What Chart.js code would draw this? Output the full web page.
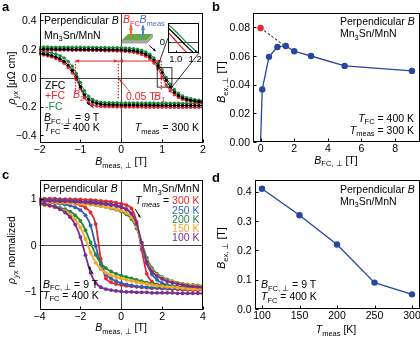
<!DOCTYPE html>
<html>
<head>
<meta charset="utf-8">
<script src="https://cdn.jsdelivr.net/npm/chart.js@4.4.1/dist/chart.umd.min.js"></script>
<style>
  body { margin: 0; background: #fff; }
  #fig { position: relative; width: 420px; height: 337px; overflow: hidden; font-family: "Liberation Sans", Arial, sans-serif; color: #000; }
  #fig canvas { position: absolute; }
  .t { position: absolute; font-size: 10.5px; line-height: 11px; white-space: nowrap; }
  .tk { position: absolute; white-space: nowrap; }
  .s { font-size: 7.5px; position: relative; top: 2.5px; font-style: normal; }
  .si { font-size: 7.5px; position: relative; top: 2.5px; font-style: italic; }
  .p { font-weight: bold; font-size: 13px; line-height: 13px; }
  .xt { transform: translateX(-50%); }
  .yt { transform: translate(-50%, -50%) rotate(-90deg); }
</style>
</head>
<body>
<div id="fig">
  <canvas id="ca" width="210" height="168" style="left:0;top:0"></canvas>
  <canvas id="ci" width="55" height="52" style="left:150px;top:13px"></canvas>
  <canvas id="cb" width="210" height="168" style="left:210px;top:0"></canvas>
  <canvas id="cc" width="210" height="169" style="left:0;top:168px"></canvas>
  <canvas id="cd" width="210" height="169" style="left:210px;top:168px"></canvas>

  <!-- panel a -->
  <div class="t p" style="left:2px;top:0">a</div>
  <div class="t" style="left:44px;top:14.5px">Perpendicular <i>B</i></div>
  <div class="t" style="left:44px;top:29.5px">Mn<span class="s">3</span>Sn/MnN</div>
  <div class="t" style="left:45px;top:79.5px">ZFC</div>
  <div class="t" style="left:45px;top:90px;color:#e8262b">+FC</div>
  <div class="t" style="left:45px;top:100.5px;color:#1b8c3c">-FC</div>
  <div class="t" style="left:44px;top:112px"><i>B</i><span class="s">FC, ⊥</span> = 9 T</div>
  <div class="t" style="left:44px;top:122px"><i>T</i><span class="s">FC</span> = 400 K</div>
  <div class="t" style="right:221px;top:122px"><i>T</i><span class="s">meas</span> = 300 K</div>
  <div class="t" style="left:73px;top:89px;color:#e8262b"><i>B</i><span class="s">2</span></div>
  <div class="t" style="left:126px;top:90.5px;color:#e8262b">0.05 T</div>
  <div class="t" style="left:154px;top:90.5px;color:#e8262b"><i>B</i><span class="s">1</span></div>
  <div class="t" style="left:123px;top:14px;color:#e8262b"><i>B</i><span class="s">FC</span></div>
  <div class="t" style="left:139.5px;top:14px;color:#4a6fc4"><i>B</i><span class="s">meas</span></div>
  <div class="t xt" style="left:121px;top:156px"><i>B</i><span class="s">meas, ⊥</span> [T]</div>
  <div class="t yt" style="left:12px;top:78px"><i>ρ</i><span class="si">yx</span> [μΩ cm]</div>

  <!-- panel b -->
  <div class="t p" style="left:212px;top:0">b</div>
  <div class="t" style="left:340px;top:15.5px">Perpendicular <i>B</i></div>
  <div class="t" style="left:340px;top:28px">Mn<span class="s">3</span>Sn/MnN</div>
  <div class="t" style="right:6px;top:112.5px"><i>T</i><span class="s">FC</span> = 400 K</div>
  <div class="t" style="right:6px;top:124.5px"><i>T</i><span class="s">meas</span> = 300 K</div>
  <div class="t xt" style="left:336px;top:154.5px"><i>B</i><span class="s">FC, ⊥</span> [T]</div>
  <div class="t yt" style="left:222px;top:82px"><i>B</i><span class="s">ex, ⊥</span> [T]</div>

  <!-- panel c -->
  <div class="t p" style="left:2px;top:168px">c</div>
  <div class="t" style="left:43px;top:183px">Perpendicular <i>B</i></div>
  <div class="t" style="right:220.5px;top:183px">Mn<span class="s">3</span>Sn/MnN</div>
  <div class="t" style="right:220.5px;top:195px"><i>T</i><span class="si">meas</span> = <span style="color:#e8262b">300 K</span></div>
  <div class="t" style="right:220.5px;top:204.5px;color:#2e5fb0">250 K</div>
  <div class="t" style="right:220.5px;top:213.5px;color:#24883a">200 K</div>
  <div class="t" style="right:220.5px;top:222.5px;color:#f5a623">150 K</div>
  <div class="t" style="right:220.5px;top:231.5px;color:#7b2d8e">100 K</div>
  <div class="t" style="left:43px;top:278.5px"><i>B</i><span class="s">FC, ⊥</span> = 9 T</div>
  <div class="t" style="left:43px;top:289.5px"><i>T</i><span class="s">FC</span> = 400 K</div>
  <div class="t xt" style="left:121px;top:322px"><i>B</i><span class="s">meas, ⊥</span> [T]</div>
  <div class="t yt" style="left:12px;top:250px"><i>ρ</i><span class="si">yx</span> normalized</div>

  <!-- panel d -->
  <div class="t p" style="left:212px;top:171px">d</div>
  <div class="t" style="left:340px;top:183.5px">Perpendicular <i>B</i></div>
  <div class="t" style="left:340px;top:195.5px">Mn<span class="s">3</span>Sn/MnN</div>
  <div class="t" style="left:261px;top:279px"><i>B</i><span class="s">FC, ⊥</span> = 9 T</div>
  <div class="t" style="left:261px;top:291px"><i>T</i><span class="s">FC</span> = 400 K</div>
  <div class="t xt" style="left:336px;top:324px"><i>T</i><span class="s">meas</span> [K]</div>
  <div class="t yt" style="left:222px;top:248px"><i>B</i><span class="s">ex, ⊥</span> [T]</div>
</div>

<script>
// ---- panel a: loops at 300 K (ZFC, +FC, -FC), both sweep branches
const aField = [-2.0, -1.9, -1.8, -1.7, -1.6, -1.5, -1.4, -1.3, -1.2, -1.1, -1.0, -0.9, -0.8, -0.7, -0.6, -0.5, -0.4, -0.3, -0.2, -0.1,
  0, 0.1, 0.2, 0.3, 0.4, 0.5, 0.6, 0.7, 0.8, 0.9, 1.0, 1.1, 1.2, 1.3, 1.4, 1.5, 1.6, 1.7, 1.8, 1.9, 2.0];
const aZfcUp = [0.199, 0.199, 0.199, 0.199, 0.198, 0.198, 0.198, 0.198, 0.197, 0.197, 0.197, 0.197, 0.196, 0.196, 0.196, 0.195, 0.195, 0.195, 0.194, 0.194,
  0.193, 0.192, 0.190, 0.187, 0.182, 0.175, 0.163, 0.146, 0.120, 0.083, 0.035, -0.018, -0.065, -0.100, -0.124, -0.140, -0.150, -0.157, -0.162, -0.165, -0.168];
const aZfcDown = [0.170, 0.166, 0.161, 0.154, 0.145, 0.132, 0.114, 0.088, 0.052, 0.005, -0.062, -0.118, -0.150, -0.168, -0.178, -0.184, -0.187, -0.188, -0.189, -0.189,
  -0.190, -0.190, -0.190, -0.190, -0.191, -0.191, -0.191, -0.191, -0.191, -0.192, -0.192, -0.192, -0.192, -0.192, -0.192, -0.193, -0.193, -0.193, -0.193, -0.193, -0.193];
const aPlusUp = [0.193, 0.193, 0.193, 0.193, 0.192, 0.192, 0.192, 0.192, 0.191, 0.191, 0.191, 0.190, 0.190, 0.190, 0.189, 0.189, 0.188, 0.188, 0.187, 0.186,
  0.185, 0.183, 0.181, 0.177, 0.171, 0.162, 0.149, 0.130, 0.102, 0.062, 0.005, -0.050, -0.090, -0.118, -0.137, -0.150, -0.158, -0.164, -0.168, -0.171, -0.173];
const aPlusDown = [0.163, 0.158, 0.152, 0.144, 0.134, 0.120, 0.100, 0.072, 0.035, -0.012, -0.075, -0.140, -0.172, -0.188, -0.196, -0.200, -0.201, -0.202, -0.202, -0.203,
  -0.203, -0.203, -0.204, -0.204, -0.204, -0.204, -0.205, -0.205, -0.205, -0.205, -0.205, -0.205, -0.205, -0.206, -0.206, -0.206, -0.206, -0.206, -0.206, -0.206, -0.206];
const aMinusUp = [0.214, 0.214, 0.214, 0.213, 0.213, 0.213, 0.213, 0.212, 0.212, 0.212, 0.212, 0.211, 0.211, 0.211, 0.210, 0.210, 0.210, 0.209, 0.209, 0.209,
  0.208, 0.207, 0.205, 0.202, 0.198, 0.191, 0.180, 0.163, 0.138, 0.102, 0.055, 0.002, -0.045, -0.082, -0.108, -0.126, -0.138, -0.146, -0.152, -0.156, -0.159];
const aMinusDown = [0.184, 0.181, 0.177, 0.172, 0.165, 0.154, 0.138, 0.114, 0.080, 0.030, -0.032, -0.090, -0.128, -0.150, -0.163, -0.170, -0.172, -0.173, -0.174, -0.174,
  -0.175, -0.175, -0.175, -0.175, -0.176, -0.176, -0.176, -0.176, -0.176, -0.177, -0.177, -0.177, -0.177, -0.177, -0.177, -0.178, -0.178, -0.178, -0.178, -0.178, -0.178];
const aXTicks = [-2, -1, 0, 1, 2];
const aYTicks = [-0.4, -0.2, 0, 0.2, 0.4];
const insetXTicks = [1.0, 1.2];
const insetYTicks = [0];
// switching fields marked in panel a
const aB2 = -1.12, aB1 = 0.98, aMid = -0.07, aArrowLevel = 0.116;

// ---- panel b: exchange bias vs cooling field
const bField = [0, 0.1, 0.5, 1, 1.5, 2, 3, 5, 9];
const bEx = [0, 0.0367, 0.0594, 0.0663, 0.0670, 0.0633, 0.0600, 0.0531, 0.0496];
const bZfcField = [0];
const bZfcEx = [0.0795];
const bFitField = [0, 1.5];
const bFitEx = [0.0795, 0.0665];
const bXTicks = [0, 2, 4, 6, 8];
const bYTicks = [0, 0.02, 0.04, 0.06, 0.08];

// ---- panel c: normalized loops at several temperatures
const cField = [-4, -3.75, -3.5, -3.25, -3, -2.75, -2.5, -2.25, -2, -1.75, -1.5, -1.25, -1, -0.75, -0.5, -0.25,
  0, 0.25, 0.5, 0.75, 1, 1.25, 1.5, 1.75, 2, 2.25, 2.5, 2.75, 3, 3.25, 3.5, 3.75, 4];
const c300Up = [1.00, 1.00, 1.00, 1.00, 0.99, 0.99, 0.99, 0.98, 0.98, 0.97, 0.97, 0.96, 0.95, 0.94, 0.93, 0.91,
  0.89, 0.86, 0.79, 0.50, -0.10, -0.62, -0.79, -0.86, -0.90, -0.92, -0.94, -0.95, -0.96, -0.96, -0.97, -0.97, -0.97];
const c300Down = [0.97, 0.96, 0.96, 0.95, 0.94, 0.93, 0.91, 0.89, 0.86, 0.80, 0.70, 0.45, -0.30, -0.72, -0.80, -0.84,
  -0.86, -0.88, -0.89, -0.90, -0.91, -0.92, -0.93, -0.93, -0.94, -0.94, -0.95, -0.95, -0.96, -0.96, -0.96, -0.97, -0.97];
const c250Up = [0.97, 0.97, 0.97, 0.96, 0.96, 0.96, 0.95, 0.95, 0.94, 0.93, 0.93, 0.92, 0.91, 0.89, 0.88, 0.86,
  0.83, 0.77, 0.66, 0.42, 0.00, -0.40, -0.63, -0.75, -0.82, -0.86, -0.88, -0.90, -0.91, -0.92, -0.93, -0.93, -0.94];
const c250Down = [0.92, 0.92, 0.91, 0.90, 0.89, 0.87, 0.85, 0.81, 0.75, 0.64, 0.42, -0.02, -0.42, -0.63, -0.72, -0.78,
  -0.82, -0.85, -0.87, -0.89, -0.90, -0.91, -0.92, -0.92, -0.93, -0.93, -0.94, -0.94, -0.95, -0.95, -0.95, -0.96, -0.96];
const c200Up = [0.95, 0.95, 0.94, 0.94, 0.93, 0.93, 0.92, 0.91, 0.90, 0.89, 0.88, 0.86, 0.84, 0.82, 0.79, 0.76,
  0.72, 0.66, 0.56, 0.36, 0.05, -0.28, -0.50, -0.62, -0.69, -0.74, -0.78, -0.81, -0.83, -0.85, -0.86, -0.87, -0.88];
const c200Down = [0.87, 0.86, 0.85, 0.83, 0.80, 0.77, 0.72, 0.64, 0.52, 0.32, 0.05, -0.21, -0.39, -0.50, -0.57, -0.62,
  -0.66, -0.69, -0.72, -0.75, -0.78, -0.81, -0.83, -0.85, -0.87, -0.88, -0.89, -0.90, -0.91, -0.92, -0.93, -0.94, -0.95];
const c150Up = [0.93, 0.93, 0.92, 0.92, 0.91, 0.91, 0.90, 0.90, 0.89, 0.88, 0.87, 0.86, 0.84, 0.82, 0.80, 0.77,
  0.74, 0.69, 0.60, 0.40, 0.02, -0.33, -0.54, -0.65, -0.71, -0.76, -0.79, -0.82, -0.84, -0.86, -0.87, -0.88, -0.89];
const c150Down = [0.87, 0.86, 0.84, 0.81, 0.78, 0.73, 0.66, 0.55, 0.38, 0.13, -0.16, -0.38, -0.52, -0.60, -0.65, -0.69,
  -0.72, -0.75, -0.77, -0.80, -0.82, -0.84, -0.86, -0.88, -0.89, -0.90, -0.91, -0.92, -0.93, -0.94, -0.95, -0.95, -0.96];
const c100Up = [0.95, 0.95, 0.95, 0.95, 0.94, 0.94, 0.94, 0.93, 0.93, 0.92, 0.91, 0.90, 0.89, 0.88, 0.86, 0.84,
  0.81, 0.77, 0.68, 0.46, 0.05, -0.36, -0.57, -0.67, -0.73, -0.78, -0.81, -0.84, -0.86, -0.88, -0.89, -0.90, -0.91];
const c100Down = [0.90, 0.88, 0.85, 0.82, 0.77, 0.70, 0.60, 0.44, 0.17, -0.22, -0.60, -0.82, -0.91, -0.95, -0.97, -0.99,
  -1.00, -1.01, -1.01, -1.02, -1.02, -1.02, -1.03, -1.03, -1.03, -1.03, -1.03, -1.04, -1.04, -1.04, -1.04, -1.04, -1.04];
const cXTicks = [-4, -2, 0, 2, 4];
const cYTicks = [-1, 0, 1];

// ---- panel d: exchange bias vs measurement temperature
const dTemp = [100, 150, 200, 250, 300];
const dEx = [0.41, 0.32, 0.22, 0.09, 0.05];
const dXTicks = [100, 150, 200, 250, 300];
const dYTicks = [0, 0.1, 0.2, 0.3, 0.4];

const FONT = '"Liberation Sans", Arial, sans-serif';
const RED = '#e8262b', GREEN = '#1b8c3c', NAVY = '#27479e';
const C300 = '#e8262b', C250 = '#2e5fb0', C200 = '#24883a', C150 = '#f5a623', C100 = '#7b2d8e';

const pts = (xs, ys) => xs.map((v, i) => ({ x: v, y: ys[i] }));
const neg = s => s.replace('-', '\u2212');

function loop(xs, ys, color, r, w) {
  return {
    data: pts(xs, ys), showLine: true, borderColor: color, backgroundColor: color,
    borderWidth: w, pointRadius: r, pointBorderWidth: 0,
    cubicInterpolationMode: 'monotone', clip: 0
  };
}

// tick labels are placed as page text from the scale's own tick list
function axis(min, max, ticks, fmt, size, isX, fs) {
  return {
    type: 'linear', min, max,
    afterBuildTicks: s => { s.ticks = ticks.map(v => ({ value: v })); },
    afterFit: s => { if (isX) s.height = size; else s.width = size; },
    grid: { display: false, drawTicks: false },
    border: { display: false },
    ticks: { display: false, font: { family: FONT, size: fs || 10.5 }, autoSkip: false, callback: fmt }
  };
}

function tickText(chart, size) {
  const fig = document.getElementById('fig');
  const cv = chart.canvas, A = chart.chartArea;
  const ox = cv.offsetLeft, oy = cv.offsetTop;
  const { x, y } = chart.scales;
  x.ticks.forEach(t => {
    const d = document.createElement('div');
    d.className = 'tk xt';
    d.style.fontSize = size + 'px';
    d.style.lineHeight = size + 'px';
    d.style.left = (ox + x.getPixelForValue(t.value)) + 'px';
    d.style.top = (oy + A.bottom + 1) + 'px';
    d.textContent = t.label;
    fig.appendChild(d);
  });
  y.ticks.forEach(t => {
    const d = document.createElement('div');
    d.className = 'tk';
    d.style.fontSize = size + 'px';
    d.style.lineHeight = size + 'px';
    d.style.right = (420 - (ox + A.left - 3)) + 'px';
    d.style.top = (oy + y.getPixelForValue(t.value) - size / 2) + 'px';
    d.textContent = t.label;
    fig.appendChild(d);
  });
}

// box, inward ticks and optional zero lines
const frame = {
  id: 'frame',
  beforeDatasetsDraw(chart, args, o) {
    if (!o.zero) return;
    const { ctx, chartArea: A, scales: { x, y } } = chart;
    ctx.save();
    ctx.strokeStyle = '#444';
    ctx.lineWidth = 1;
    ctx.beginPath();
    if (x.min < 0 && x.max > 0) {
      const px = Math.round(x.getPixelForValue(0)) + 0.5;
      ctx.moveTo(px, A.top); ctx.lineTo(px, A.bottom);
    }
    if (y.min < 0 && y.max > 0) {
      const py = Math.round(y.getPixelForValue(0)) + 0.5;
      ctx.moveTo(A.left, py); ctx.lineTo(A.right, py);
    }
    ctx.stroke();
    ctx.restore();
  },
  afterDatasetsDraw(chart, args, o) {
    const { ctx, chartArea: A, scales: { x, y } } = chart;
    const l = Math.round(A.left) + 0.5, r = Math.round(A.right) - 0.5;
    const t = Math.round(A.top) + 0.5, b = Math.round(A.bottom) - 0.5;
    const len = o.tick || 3;
    ctx.save();
    ctx.strokeStyle = '#000';
    ctx.lineWidth = 1;
    ctx.strokeRect(l, t, r - l, b - t);
    ctx.beginPath();
    x.ticks.forEach(k => {
      const p = Math.round(x.getPixelForValue(k.value)) + 0.5;
      ctx.moveTo(p, b); ctx.lineTo(p, b - len);
    });
    y.ticks.forEach(k => {
      const p = Math.round(y.getPixelForValue(k.value)) + 0.5;
      ctx.moveTo(l, p); ctx.lineTo(l + len, p);
    });
    ctx.stroke();
    ctx.restore();
  }
};

function panel(id, area, scales, datasets, opts, deco, fs) {
  const cv = document.getElementById(id);
  const plugins = [frame];
  if (deco) plugins.push({ id: 'deco', afterDatasetsDraw: c => { c.ctx.save(); deco(c); c.ctx.restore(); } });
  const chart = new Chart(cv, {
    type: 'scatter',
    data: { datasets },
    options: {
      responsive: false, animation: false, events: [],
      layout: { autoPadding: false, padding: { left: 0, top: area.t, right: cv.width - area.r, bottom: 0 } },
      plugins: { legend: { display: false }, tooltip: { enabled: false }, frame: opts },
      scales
    },
    plugins
  });
  tickText(chart, fs || 10.5);
  return chart;
}

function head(ctx, x1, y1, x2, y2, s) {
  const a = Math.atan2(y2 - y1, x2 - x1);
  ctx.beginPath();
  ctx.moveTo(x2, y2);
  ctx.lineTo(x2 - s * Math.cos(a - 0.45), y2 - s * Math.sin(a - 0.45));
  ctx.lineTo(x2 - s * Math.cos(a + 0.45), y2 - s * Math.sin(a + 0.45));
  ctx.closePath();
  ctx.fill();
}

function arrow(ctx, x1, y1, x2, y2, color, w, s) {
  ctx.strokeStyle = color; ctx.fillStyle = color; ctx.lineWidth = w;
  ctx.beginPath(); ctx.moveTo(x1, y1); ctx.lineTo(x2, y2); ctx.stroke();
  head(ctx, x1, y1, x2, y2, s);
}

function poly(ctx, p) {
  ctx.beginPath();
  p.forEach(([px, py], i) => i ? ctx.lineTo(px, py) : ctx.moveTo(px, py));
  ctx.closePath();
  ctx.fill();
}

function decoA(chart) {
  const { ctx, scales: { x, y } } = chart;
  const X = v => x.getPixelForValue(v), Y = v => y.getPixelForValue(v);
  // dotted guides at the switching fields
  ctx.strokeStyle = RED; ctx.lineWidth = 1.2; ctx.setLineDash([1.5, 1.5]);
  ctx.beginPath();
  ctx.moveTo(X(aB2), Y(aArrowLevel)); ctx.lineTo(X(aB2), Y(-0.1));
  ctx.moveTo(X(aMid), Y(aArrowLevel)); ctx.lineTo(X(aMid), Y(-0.15));
  ctx.moveTo(X(aB1), Y(aArrowLevel)); ctx.lineTo(X(aB1), Y(-0.09));
  ctx.stroke();
  ctx.setLineDash([]);
  // double arrows
  const ly = Y(aArrowLevel);
  arrow(ctx, X(aMid), ly, X(aB2), ly, RED, 1, 4);
  head(ctx, X(aB2), ly, X(aMid) - 1, ly, 4);
  arrow(ctx, X(aMid), ly, X(aB1), ly, RED, 1, 4);
  head(ctx, X(aB1), ly, X(aMid) + 1, ly, 4);
  // pointer from "0.05 T"
  arrow(ctx, X(0.22), Y(-0.1), X(aMid) + 1, Y(0) + 1.5, RED, 0.8, 3);
  // sweep direction arrows
  arrow(ctx, X(0.69), Y(0.222), X(0.84), Y(0.186), '#000', 1, 3);
  arrow(ctx, X(-0.68), Y(-0.208), X(-0.84), Y(-0.172), '#000', 1, 3);
  // zoomed region and connectors to the inset
  ctx.strokeStyle = '#000'; ctx.lineWidth = 0.8;
  const rl = X(0.88), rt = Y(0.07), rr = X(1.24), rb = Y(-0.065);
  ctx.strokeRect(rl, rt, rr - rl, rb - rt);
  ctx.beginPath();
  ctx.moveTo(rl, rt); ctx.lineTo(168, 38);
  ctx.moveTo(rr, rb); ctx.lineTo(199, 53);
  ctx.stroke();
  // sample sketch with field arrows
  ctx.fillStyle = '#a5a5a5';
  poly(ctx, [[122, 40], [147, 40], [153, 34], [153, 37.5], [147, 43.5], [122, 43.5]]);
  ctx.fillStyle = '#63a844';
  poly(ctx, [[128, 34], [153, 34], [147, 40], [122, 40]]);
  arrow(ctx, 131, 37, 131, 25.5, '#f0642d', 2, 5);
  arrow(ctx, 143, 37, 143, 25.5, '#5a7fcc', 2, 5);
}

function decoC(chart) {
  const { ctx, scales: { x, y } } = chart;
  const X = v => x.getPixelForValue(v), Y = v => y.getPixelForValue(v);
  arrow(ctx, X(0.69), Y(0.77), X(0.93), Y(0.59), '#000', 1, 3);
  arrow(ctx, X(-1.37), Y(-0.63), X(-1.58), Y(-0.46), '#000', 1, 3);
}

const fmtA = v => v === 0 ? '0.0' : neg(v.toFixed(1));
const fmtInt = v => neg(String(v));

// panel a
panel('ca', { l: 39.5, t: 13, r: 203, b: 142.5 }, {
  x: axis(-2, 2, aXTicks, fmtInt, 168 - 142.5, true),
  y: axis(-0.45, 0.45, aYTicks, fmtA, 39.5, false)
}, [
  loop(aField, aZfcUp, '#000', 1.7, 1),
  loop(aField, aZfcDown, '#000', 1.7, 1),
  loop(aField, aPlusUp, RED, 1.7, 1),
  loop(aField, aPlusDown, RED, 1.7, 1),
  loop(aField, aMinusUp, GREEN, 1.7, 1),
  loop(aField, aMinusDown, GREEN, 1.7, 1)
], { zero: true, tick: 3 }, decoA);

// inset of panel a
panel('ci', { l: 18, t: 10, r: 49, b: 40 }, {
  x: axis(0.92, 1.24, insetXTicks, v => v.toFixed(1), 12, true, 9.5),
  y: axis(-0.06, 0.1, insetYTicks, v => '0', 18, false, 9.5)
}, [
  loop(aField, aZfcUp, '#000', 0, 1.3),
  loop(aField, aPlusUp, RED, 0, 1.3),
  loop(aField, aMinusUp, GREEN, 0, 1.3)
], { zero: true, tick: 2 }, null, 9.5);

// panel b
panel('cb', { l: 43, t: 13, r: 209.5, b: 142 }, {
  x: axis(-0.45, 9.45, bXTicks, fmtInt, 168 - 142, true),
  y: axis(0, 0.09, bYTicks, v => v.toFixed(2), 43, false)
}, [
  { data: pts(bZfcField, bZfcEx), backgroundColor: RED, borderColor: RED, pointRadius: 3.2, pointBorderWidth: 0 },
  { data: pts(bField, bEx), showLine: true, borderColor: NAVY, backgroundColor: NAVY, borderWidth: 1.3,
    pointRadius: bEx.map(v => v === 0 ? 0 : 3.2), pointBorderWidth: 0, clip: 0 },
  { data: pts(bFitField, bFitEx), showLine: true, borderColor: '#000', borderWidth: 1, borderDash: [2.5, 2], pointRadius: 0 }
], { tick: 3 });

// panel c
panel('cc', { l: 39.5, t: 12, r: 203, b: 142 }, {
  x: axis(-4, 4, cXTicks, fmtInt, 169 - 142, true),
  y: axis(-1.4, 1.4, cYTicks, fmtInt, 39.5, false)
}, [
  loop(cField, c100Up, C100, 1.9, 1.8),
  loop(cField, c100Down, C100, 1.9, 1.8),
  loop(cField, c150Up, C150, 1.9, 1.8),
  loop(cField, c150Down, C150, 1.9, 1.8),
  loop(cField, c200Up, C200, 1.9, 1.8),
  loop(cField, c200Down, C200, 1.9, 1.8),
  loop(cField, c250Up, C250, 1.9, 1.8),
  loop(cField, c250Down, C250, 1.9, 1.8),
  loop(cField, c300Up, C300, 1.9, 1.8),
  loop(cField, c300Down, C300, 1.9, 1.8)
], { zero: true, tick: 3 }, decoC);

// panel d
panel('cd', { l: 44.5, t: 12, r: 209.5, b: 141 }, {
  x: axis(90, 310, dXTicks, v => String(v), 169 - 141, true),
  y: axis(0, 0.44, dYTicks, v => v.toFixed(1), 44.5, false)
}, [
  { data: pts(dTemp, dEx), showLine: true, borderColor: NAVY, backgroundColor: NAVY, borderWidth: 1.3,
    pointRadius: 3.2, pointBorderWidth: 0 }
], { tick: 3 });
</script>
</body>
</html>
